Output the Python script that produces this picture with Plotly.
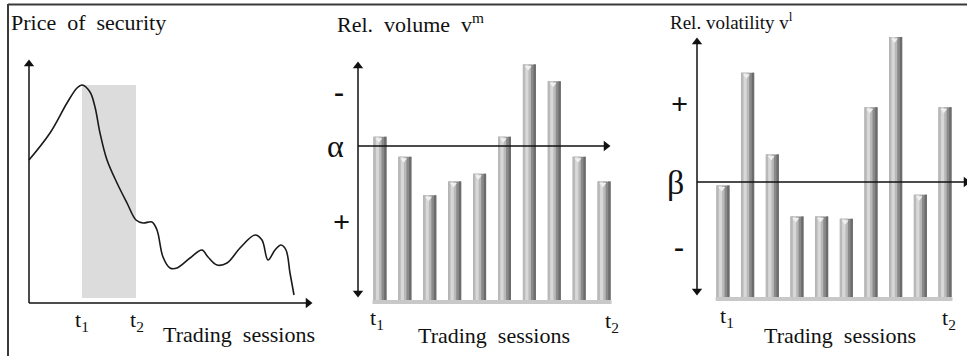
import plotly.graph_objects as go

W, H = 967, 356

# price of security (left panel), x in trading-session units, y in price units
price_x = [0.0, 2.1, 3.8, 4.8, 5.3, 6.1, 6.6, 7.1, 7.8, 8.8, 9.8, 10.7, 11.4, 12.3, 12.8, 13.4,
           14.1, 14.8, 16.1, 17.3, 17.9, 18.8, 19.8, 21.1, 22.6, 23.3, 23.9, 24.6, 25.2, 25.7, 26.1, 26.5]
price_y = [14.3, 17.0, 20.0, 21.5, 21.8, 21.1, 19.6, 17.0, 14.3, 12.0, 10.0, 8.3, 8.0, 8.1, 7.3, 4.6,
           3.5, 3.5, 4.5, 5.3, 4.6, 3.8, 4.0, 5.5, 6.8, 6.3, 4.3, 5.3, 5.8, 5.3, 3.0, 0.8]
t1_pos, t2_pos = 5.3, 10.7
window_top = 21.8

# relative volume / volatility per session between t1 and t2
sessions = list(range(1, 11))
rel_volume = [1.06, 0.93, 0.68, 0.77, 0.82, 1.06, 1.53, 1.42, 0.93, 0.77]
alpha = 1.0
rel_volatility = [0.97, 1.95, 1.24, 0.70, 0.70, 0.68, 1.65, 2.26, 0.89, 1.65]
beta = 1.0

FONT = "Liberation Serif, Times New Roman, serif"

# panel geometry in pixels: origin of data (0,0) and pixels per unit
PANELS = {
    1: dict(ox=29, oy=303, sx=10.0, sy=10.0, px=(10, 330), py=(40, 315)),
    2: dict(ox=355.1, oy=300, sx=24.9, sy=154.0, px=(335, 660), py=(40, 315)),
    3: dict(ox=698.33, oy=297, sx=24.67, sy=115.0, px=(665, 967), py=(25, 315)),
}


def to_x(p, pix):
    g = PANELS[p]
    return (pix - g["ox"]) / g["sx"]


def to_y(p, pix):
    g = PANELS[p]
    return (g["oy"] - pix) / g["sy"]


def ax_names(p):
    sfx = "" if p == 1 else str(p)
    return "x" + sfx, "y" + sfx


fig = go.Figure()

# left panel: shaded window and price curve
fig.add_trace(go.Scatter(x=[t1_pos, t1_pos, t2_pos, t2_pos], y=[to_y(1, 298), window_top, window_top, to_y(1, 298)],
                         fill="toself", fillcolor="#dcdcdc", line=dict(width=0), mode="lines",
                         xaxis="x", yaxis="y", hoverinfo="skip"))
fig.add_trace(go.Scatter(x=price_x, y=price_y, mode="lines", line=dict(color="#1a1a1a", width=1.6, shape="spline", smoothing=1.0),
                         xaxis="x", yaxis="y"))


def add_bars(p, vals):
    xa, ya = ax_names(p)
    g = PANELS[p]
    w = 13.0 / g["sx"]
    # base slab
    fig.add_trace(go.Scatter(x=[sessions[0] - 0.3, sessions[-1] + 0.3], y=[-2 / g["sy"]] * 2, mode="lines",
                             line=dict(color="#c8c8c8", width=4), xaxis=xa, yaxis=ya, hoverinfo="skip"))
    # cylinder look: dark body, lighter left part, highlight, darker right edge
    for frac_w, frac_off, col in [(1.0, -0.5, "#8a8a8a"), (0.62, -0.5, "#b9b9b9"),
                                  (0.25, -0.32, "#d8d8d8"), (0.18, 0.32, "#6c6c6c")]:
        fig.add_trace(go.Bar(x=sessions, y=vals, width=w * frac_w, offset=w * frac_off, marker=dict(color=col, line=dict(width=0)),
                             xaxis=xa, yaxis=ya, hoverinfo="skip"))
    fig.add_trace(go.Scatter(x=[s - 0.05 for s in sessions], y=[v - 3 / g["sy"] for v in vals], mode="markers",
                             marker=dict(symbol="triangle-down", size=6, color="#f0f0f0"), cliponaxis=False,
                             xaxis=xa, yaxis=ya, hoverinfo="skip"))


add_bars(2, rel_volume)
add_bars(3, rel_volatility)


def arrow(p, x0, y0, x1, y1, sym_end, sym_start=None):
    xa, ya = ax_names(p)
    fig.add_trace(go.Scatter(x=[x0, x1], y=[y0, y1], mode="lines", line=dict(color="#111", width=1.5),
                             xaxis=xa, yaxis=ya, hoverinfo="skip", cliponaxis=False))
    pts = [(x1, y1, sym_end)] + ([(x0, y0, sym_start)] if sym_start else [])
    fig.add_trace(go.Scatter(x=[q[0] for q in pts], y=[q[1] for q in pts], mode="markers",
                             marker=dict(symbol=[q[2] for q in pts], size=9, color="#111", line=dict(width=0)),
                             xaxis=xa, yaxis=ya, hoverinfo="skip", cliponaxis=False))


# axes of left panel
arrow(1, 0, 0, 0, to_y(1, 64), "triangle-up")
arrow(1, 0, 0, to_x(1, 308), 0, "triangle-right")
# middle panel: vertical double arrow and alpha threshold
arrow(2, to_x(2, 358), to_y(2, 293), to_x(2, 358), to_y(2, 66), "triangle-up", "triangle-down")
arrow(2, to_x(2, 358), alpha, to_x(2, 606), alpha, "triangle-right")
# right panel: vertical double arrow and beta threshold
arrow(3, to_x(3, 697), to_y(3, 291), to_x(3, 697), to_y(3, 42), "triangle-up", "triangle-down")
arrow(3, to_x(3, 697), beta, to_x(3, 966), beta, "triangle-right")

layout_axes = {}
for p, g in PANELS.items():
    sfx = "" if p == 1 else str(p)
    layout_axes["xaxis" + sfx] = dict(domain=[g["px"][0] / W, g["px"][1] / W],
                                      range=[to_x(p, g["px"][0]), to_x(p, g["px"][1])],
                                      visible=False, fixedrange=True, anchor="y" + sfx)
    layout_axes["yaxis" + sfx] = dict(domain=[1 - g["py"][1] / H, 1 - g["py"][0] / H],
                                      range=[to_y(p, g["py"][1]), to_y(p, g["py"][0])],
                                      visible=False, fixedrange=True, anchor="x" + sfx)

ann = []


def label(text, xpx, ypx, size=22, anchor="center", bold=False):
    ann.append(dict(x=xpx / W, y=1 - ypx / H, xref="paper", yref="paper", text=("<b>%s</b>" % text) if bold else text,
                    showarrow=False, xanchor=anchor, yanchor="middle",
                    font=dict(family=FONT, size=size, color="#111")))


label("Price&nbsp; of&nbsp; security", 9, 23, anchor="left")
label("Trading&nbsp; sessions", 239, 334)
label("t<sub>1</sub>", 82, 321)
label("t<sub>2</sub>", 137, 321)

label("Rel.&nbsp; volume&nbsp; v<sup>m</sup>", 335, 23, anchor="left")
label("Trading&nbsp; sessions", 494, 335)
label("t<sub>1</sub>", 377, 319)
label("t<sub>2</sub>", 612, 322)
label("α", 335, 146, size=32)
label("-", 339, 92, size=30, bold=True)
label("+", 341, 221, size=30, bold=True)

label("Rel. volatility v<sup>l</sup>", 668, 21, size=19, anchor="left")
label("Trading&nbsp; sessions", 840, 335)
label("t<sub>1</sub>", 727, 317)
label("t<sub>2</sub>", 949, 319)
label("β", 675, 182, size=34)
label("+", 679, 103, size=30, bold=True)
label("-", 679, 246, size=30, bold=True)

shapes = [
    dict(type="line", xref="paper", yref="paper", x0=8 / W, x1=8 / W, y0=0, y1=1 - 4 / H, line=dict(color="#3a3a3a", width=2)),
    dict(type="line", xref="paper", yref="paper", x0=8 / W, x1=1, y0=1 - 4.5 / H, y1=1 - 4.5 / H, line=dict(color="#3a3a3a", width=2)),
]

fig.update_layout(width=W, height=H, margin=dict(l=0, r=0, t=0, b=0), paper_bgcolor="white", plot_bgcolor="rgba(0,0,0,0)",
                  showlegend=False, barmode="overlay", annotations=ann, shapes=shapes, **layout_axes)
fig.write_html("out.html", config={"displayModeBar": False}, post_script="document.body.style.margin='0';")
